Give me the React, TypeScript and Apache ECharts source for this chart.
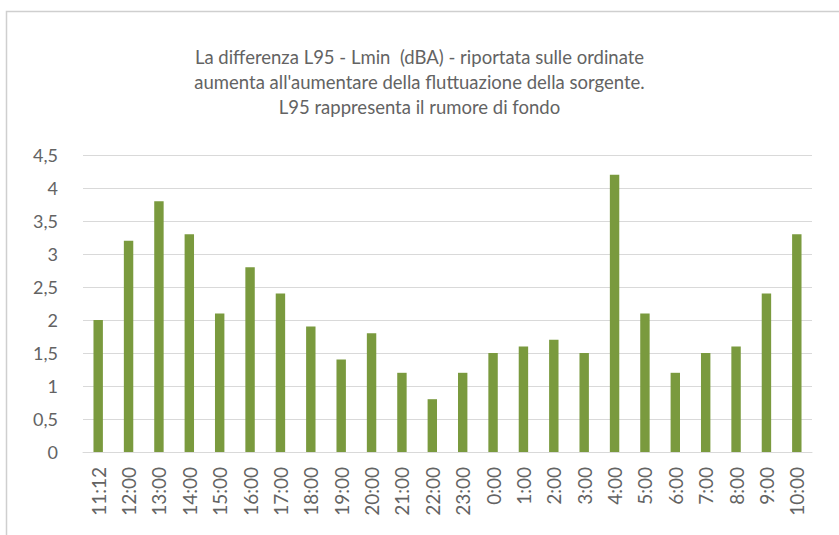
import React, { useEffect, useRef } from "react";
import * as echarts from "echarts";

const categories = [
  "11:12", "12:00", "13:00", "14:00", "15:00", "16:00", "17:00", "18:00",
  "19:00", "20:00", "21:00", "22:00", "23:00", "0:00", "1:00", "2:00",
  "3:00", "4:00", "5:00", "6:00", "7:00", "8:00", "9:00", "10:00",
];
const values = [
  2, 3.2, 3.8, 3.3, 2.1, 2.8, 2.4, 1.9, 1.4, 1.8, 1.2, 0.8,
  1.2, 1.5, 1.6, 1.7, 1.5, 4.2, 2.1, 1.2, 1.5, 1.6, 2.4, 3.3,
];
const titleLines = [
  "La differenza L95 - Lmin  (dBA) - riportata sulle ordinate",
  "aumenta all'aumentare della fluttuazione della sorgente.",
  "L95 rappresenta il rumore di fondo",
];

const FONT = "Lato, 'Open Sans', sans-serif";
const TEXT = "#636363";

export default function App() {
  const ref = useRef<HTMLDivElement>(null);
  useEffect(() => {
    if (!ref.current) return;
    const chart = echarts.init(ref.current, null, { renderer: "svg" });
    chart.setOption({
      animation: false,
      backgroundColor: "#ffffff",
      title: {
        text: titleLines.join("\n"),
        left: "center",
        top: 39,
        textStyle: {
          fontFamily: FONT,
          fontSize: 18.5,
          fontWeight: "normal",
          color: TEXT,
          lineHeight: 25,
        },
      },
      graphic: [
        {
          type: "rect",
          shape: { x: 6.5, y: 11.5, width: 900, height: 600 },
          style: { fill: "none", stroke: "#cfcfcf", lineWidth: 1.5 },
          silent: true,
        },
      ],
      grid: { left: 83, right: 27, top: 155, bottom: 83 },
      xAxis: {
        type: "category",
        data: categories,
        axisLine: { show: true, lineStyle: { color: "#d9d9d9", width: 1 } },
        axisTick: { show: false },
        axisLabel: {
          rotate: 90,
          interval: 0,
          margin: 15,
          fontFamily: FONT,
          fontSize: 19,
          color: TEXT,
        },
      },
      yAxis: {
        type: "value",
        min: 0,
        max: 4.5,
        interval: 0.5,
        axisLine: { show: false },
        axisTick: { show: false },
        splitLine: { lineStyle: { color: "#d9d9d9", width: 1 } },
        axisLabel: {
          margin: 25,
          fontFamily: FONT,
          fontSize: 18,
          color: TEXT,
          formatter: (v: number) => String(v).replace(".", ","),
        },
      },
      series: [
        {
          type: "bar",
          data: values,
          barWidth: "31%",
          itemStyle: { color: "#7a9a3e" },
        },
      ],
    });
    return () => chart.dispose();
  }, []);
  return (
    <div
      ref={ref}
      style={{ position: "fixed", left: 0, top: 0, width: 839, height: 535 }}
    />
  );
}
